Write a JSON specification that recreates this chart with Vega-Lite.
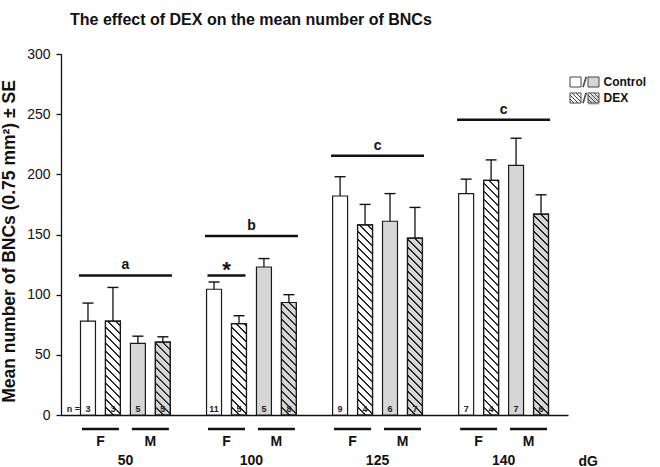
{
  "$schema": "https://vega.github.io/schema/vega-lite/v6.json",
  "width": 507,
  "height": 361,
  "autosize": {"type": "none"},
  "padding": {"left": 61, "top": 54, "right": 92, "bottom": 52},
  "background": "white",
  "title": {"text": "The effect of DEX on the mean number of BNCs", "anchor": "start", "frame": "group", "dx": 9, "offset": 6, "font": "Liberation Sans", "fontSize": 16, "fontWeight": "bold", "color": "#111", "baseline": "alphabetic"},
  "params": [
    {"name": "hatch", "value": [
      {"offset": 0, "color": "#222"}, {"offset": 0.002, "color": "#222"}, {"offset": 0.0045, "color": "rgba(0,0,0,0)"},
      {"offset": 0.02675, "color": "rgba(0,0,0,0)"}, {"offset": 0.02925, "color": "#222"}, {"offset": 0.03325, "color": "#222"}, {"offset": 0.03575, "color": "rgba(0,0,0,0)"},
      {"offset": 0.058, "color": "rgba(0,0,0,0)"}, {"offset": 0.0605, "color": "#222"}, {"offset": 0.0645, "color": "#222"}, {"offset": 0.067, "color": "rgba(0,0,0,0)"},
      {"offset": 0.08925, "color": "rgba(0,0,0,0)"}, {"offset": 0.09175, "color": "#222"}, {"offset": 0.09575, "color": "#222"}, {"offset": 0.09825, "color": "rgba(0,0,0,0)"},
      {"offset": 0.1205, "color": "rgba(0,0,0,0)"}, {"offset": 0.123, "color": "#222"}, {"offset": 0.127, "color": "#222"}, {"offset": 0.1295, "color": "rgba(0,0,0,0)"},
      {"offset": 0.15175, "color": "rgba(0,0,0,0)"}, {"offset": 0.15425, "color": "#222"}, {"offset": 0.15825, "color": "#222"}, {"offset": 0.16075, "color": "rgba(0,0,0,0)"},
      {"offset": 0.183, "color": "rgba(0,0,0,0)"}, {"offset": 0.1855, "color": "#222"}, {"offset": 0.1895, "color": "#222"}, {"offset": 0.192, "color": "rgba(0,0,0,0)"},
      {"offset": 0.21425, "color": "rgba(0,0,0,0)"}, {"offset": 0.21675, "color": "#222"}, {"offset": 0.22075, "color": "#222"}, {"offset": 0.22325, "color": "rgba(0,0,0,0)"},
      {"offset": 0.2455, "color": "rgba(0,0,0,0)"}, {"offset": 0.248, "color": "#222"}, {"offset": 0.252, "color": "#222"}, {"offset": 0.2545, "color": "rgba(0,0,0,0)"},
      {"offset": 0.27675, "color": "rgba(0,0,0,0)"}, {"offset": 0.27925, "color": "#222"}, {"offset": 0.28325, "color": "#222"}, {"offset": 0.28575, "color": "rgba(0,0,0,0)"},
      {"offset": 0.308, "color": "rgba(0,0,0,0)"}, {"offset": 0.3105, "color": "#222"}, {"offset": 0.3145, "color": "#222"}, {"offset": 0.317, "color": "rgba(0,0,0,0)"},
      {"offset": 0.33925, "color": "rgba(0,0,0,0)"}, {"offset": 0.34175, "color": "#222"}, {"offset": 0.34575, "color": "#222"}, {"offset": 0.34825, "color": "rgba(0,0,0,0)"},
      {"offset": 0.3705, "color": "rgba(0,0,0,0)"}, {"offset": 0.373, "color": "#222"}, {"offset": 0.377, "color": "#222"}, {"offset": 0.3795, "color": "rgba(0,0,0,0)"},
      {"offset": 0.40175, "color": "rgba(0,0,0,0)"}, {"offset": 0.40425, "color": "#222"}, {"offset": 0.40825, "color": "#222"}, {"offset": 0.41075, "color": "rgba(0,0,0,0)"},
      {"offset": 0.433, "color": "rgba(0,0,0,0)"}, {"offset": 0.4355, "color": "#222"}, {"offset": 0.4395, "color": "#222"}, {"offset": 0.442, "color": "rgba(0,0,0,0)"},
      {"offset": 0.46425, "color": "rgba(0,0,0,0)"}, {"offset": 0.46675, "color": "#222"}, {"offset": 0.47075, "color": "#222"}, {"offset": 0.47325, "color": "rgba(0,0,0,0)"},
      {"offset": 0.4955, "color": "rgba(0,0,0,0)"}, {"offset": 0.498, "color": "#222"}, {"offset": 0.502, "color": "#222"}, {"offset": 0.5045, "color": "rgba(0,0,0,0)"},
      {"offset": 0.52675, "color": "rgba(0,0,0,0)"}, {"offset": 0.52925, "color": "#222"}, {"offset": 0.53325, "color": "#222"}, {"offset": 0.53575, "color": "rgba(0,0,0,0)"},
      {"offset": 0.558, "color": "rgba(0,0,0,0)"}, {"offset": 0.5605, "color": "#222"}, {"offset": 0.5645, "color": "#222"}, {"offset": 0.567, "color": "rgba(0,0,0,0)"},
      {"offset": 0.58925, "color": "rgba(0,0,0,0)"}, {"offset": 0.59175, "color": "#222"}, {"offset": 0.59575, "color": "#222"}, {"offset": 0.59825, "color": "rgba(0,0,0,0)"},
      {"offset": 0.6205, "color": "rgba(0,0,0,0)"}, {"offset": 0.623, "color": "#222"}, {"offset": 0.627, "color": "#222"}, {"offset": 0.6295, "color": "rgba(0,0,0,0)"},
      {"offset": 0.65175, "color": "rgba(0,0,0,0)"}, {"offset": 0.65425, "color": "#222"}, {"offset": 0.65825, "color": "#222"}, {"offset": 0.66075, "color": "rgba(0,0,0,0)"},
      {"offset": 0.683, "color": "rgba(0,0,0,0)"}, {"offset": 0.6855, "color": "#222"}, {"offset": 0.6895, "color": "#222"}, {"offset": 0.692, "color": "rgba(0,0,0,0)"},
      {"offset": 0.71425, "color": "rgba(0,0,0,0)"}, {"offset": 0.71675, "color": "#222"}, {"offset": 0.72075, "color": "#222"}, {"offset": 0.72325, "color": "rgba(0,0,0,0)"},
      {"offset": 0.7455, "color": "rgba(0,0,0,0)"}, {"offset": 0.748, "color": "#222"}, {"offset": 0.752, "color": "#222"}, {"offset": 0.7545, "color": "rgba(0,0,0,0)"},
      {"offset": 0.77675, "color": "rgba(0,0,0,0)"}, {"offset": 0.77925, "color": "#222"}, {"offset": 0.78325, "color": "#222"}, {"offset": 0.78575, "color": "rgba(0,0,0,0)"},
      {"offset": 0.808, "color": "rgba(0,0,0,0)"}, {"offset": 0.8105, "color": "#222"}, {"offset": 0.8145, "color": "#222"}, {"offset": 0.817, "color": "rgba(0,0,0,0)"},
      {"offset": 0.83925, "color": "rgba(0,0,0,0)"}, {"offset": 0.84175, "color": "#222"}, {"offset": 0.84575, "color": "#222"}, {"offset": 0.84825, "color": "rgba(0,0,0,0)"},
      {"offset": 0.8705, "color": "rgba(0,0,0,0)"}, {"offset": 0.873, "color": "#222"}, {"offset": 0.877, "color": "#222"}, {"offset": 0.8795, "color": "rgba(0,0,0,0)"},
      {"offset": 0.90175, "color": "rgba(0,0,0,0)"}, {"offset": 0.90425, "color": "#222"}, {"offset": 0.90825, "color": "#222"}, {"offset": 0.91075, "color": "rgba(0,0,0,0)"},
      {"offset": 0.933, "color": "rgba(0,0,0,0)"}, {"offset": 0.9355, "color": "#222"}, {"offset": 0.9395, "color": "#222"}, {"offset": 0.942, "color": "rgba(0,0,0,0)"},
      {"offset": 0.96425, "color": "rgba(0,0,0,0)"}, {"offset": 0.96675, "color": "#222"}, {"offset": 0.97075, "color": "#222"}, {"offset": 0.97325, "color": "rgba(0,0,0,0)"},
      {"offset": 1, "color": "rgba(0,0,0,0)"}
    ]}
  ],
  "datasets": {
    "bars": [
      {"dG": "50", "sex": "F", "trt": "Control", "bar": "F Control", "mean": 78, "hi": 93, "n": 3},
      {"dG": "50", "sex": "F", "trt": "DEX", "bar": "F DEX", "mean": 78, "hi": 106, "n": 3},
      {"dG": "50", "sex": "M", "trt": "Control", "bar": "M Control", "mean": 59.5, "hi": 65.5, "n": 5},
      {"dG": "50", "sex": "M", "trt": "DEX", "bar": "M DEX", "mean": 60.5, "hi": 65, "n": 5},
      {"dG": "100", "sex": "F", "trt": "Control", "bar": "F Control", "mean": 104.5, "hi": 110.5, "n": 11},
      {"dG": "100", "sex": "F", "trt": "DEX", "bar": "F DEX", "mean": 76, "hi": 82.5, "n": 5},
      {"dG": "100", "sex": "M", "trt": "Control", "bar": "M Control", "mean": 123, "hi": 130, "n": 5},
      {"dG": "100", "sex": "M", "trt": "DEX", "bar": "M DEX", "mean": 93.5, "hi": 100, "n": 8},
      {"dG": "125", "sex": "F", "trt": "Control", "bar": "F Control", "mean": 182, "hi": 198, "n": 9},
      {"dG": "125", "sex": "F", "trt": "DEX", "bar": "F DEX", "mean": 158, "hi": 175, "n": 4},
      {"dG": "125", "sex": "M", "trt": "Control", "bar": "M Control", "mean": 161, "hi": 184, "n": 6},
      {"dG": "125", "sex": "M", "trt": "DEX", "bar": "M DEX", "mean": 147, "hi": 172.5, "n": 7},
      {"dG": "140", "sex": "F", "trt": "Control", "bar": "F Control", "mean": 184, "hi": 196, "n": 7},
      {"dG": "140", "sex": "F", "trt": "DEX", "bar": "F DEX", "mean": 195, "hi": 212, "n": 4},
      {"dG": "140", "sex": "M", "trt": "Control", "bar": "M Control", "mean": 207.5, "hi": 230, "n": 7},
      {"dG": "140", "sex": "M", "trt": "DEX", "bar": "M DEX", "mean": 167, "hi": 183, "n": 6}
    ],
    "sig": [
      {"dG": "50", "y": 116, "label": "a"},
      {"dG": "100", "y": 148.7, "label": "b"},
      {"dG": "125", "y": 215.4, "label": "c"},
      {"dG": "140", "y": 245.3, "label": "c"}
    ],
    "star": [
      {"dG": "100", "sex": "F", "y": 116, "label": "*"}
    ],
    "pairs": [
      {"dG": "50", "sex": "F"}, {"dG": "50", "sex": "M"},
      {"dG": "100", "sex": "F"}, {"dG": "100", "sex": "M"},
      {"dG": "125", "sex": "F"}, {"dG": "125", "sex": "M"},
      {"dG": "140", "sex": "F"}, {"dG": "140", "sex": "M"}
    ]
  },
  "config": {
    "view": {"stroke": null},
    "font": "Liberation Sans",
    "scale": {"offsetBandPaddingInner": 0.4, "offsetBandPaddingOuter": 0.2},
    "axis": {"labelFont": "Liberation Sans", "titleFont": "Liberation Sans", "domainColor": "#111", "tickColor": "#111", "labelColor": "#111", "titleColor": "#111", "grid": false},
    "axisY": {"labelFontSize": 14, "labelFontWeight": "normal", "tickSize": 5, "labelPadding": 6, "titleFontSize": 17.5, "titleFontWeight": "bold", "titlePadding": 8, "domainWidth": 1.3, "tickWidth": 1.3},
    "axisX": {"labelFontSize": 14, "labelFontWeight": "bold", "ticks": false, "labelPadding": 38, "labelAngle": 0, "domainWidth": 1.5, "titleFontSize": 14, "titleFontWeight": "bold"}
  },
  "resolve": {"scale": {"xOffset": "independent", "shape": "independent"}},
  "encoding": {
    "x": {"field": "dG", "type": "nominal", "sort": ["50", "100", "125", "140"], "scale": {"paddingInner": 0.208, "paddingOuter": 0.115},
      "axis": {"title": "dG", "titleX": 517, "titleY": 50, "titleAlign": "left", "titleBaseline": "alphabetic", "titleAnchor": "start"}}
  },
  "layer": [
    {
      "data": {"name": "bars"},
      "mark": {"type": "bar", "stroke": "#1a1a1a", "strokeWidth": 1.2},
      "encoding": {
        "xOffset": {"field": "bar", "type": "nominal", "scale": {"domain": ["F Control", "F DEX", "M Control", "M DEX"]}},
        "y": {"field": "mean", "type": "quantitative", "scale": {"domain": [0, 300], "nice": false}, "axis": {"title": "Mean number of BNCs (0.75 mm²) ± SE", "values": [0, 50, 100, 150, 200, 250, 300], "titleY": 187, "titleAlign": "center"}},
        "fill": {"field": "sex", "type": "nominal", "scale": {"domain": ["F", "M"], "range": ["white", "#d6d6d6"]}, "legend": null}
      }
    },
    {
      "data": {"name": "bars"},
      "transform": [{"filter": "datum.trt == 'DEX'"}],
      "mark": {"type": "bar", "stroke": "#1a1a1a", "strokeWidth": 1.2,
        "fill": {"expr": "{gradient: 'linear', x1: 0, y1: 1, x2: 3840 / (225 + pow(datum.mean * 1.20333, 2)), y2: 1 - 256 * datum.mean * 1.20333 / (225 + pow(datum.mean * 1.20333, 2)), stops: hatch}"}},
      "encoding": {
        "xOffset": {"field": "bar", "type": "nominal", "scale": {"domain": ["F Control", "F DEX", "M Control", "M DEX"]}},
        "y": {"field": "mean", "type": "quantitative"}
      }
    },
    {
      "data": {"name": "bars"},
      "mark": {"type": "rule", "color": "#111", "strokeWidth": 1.3},
      "encoding": {
        "xOffset": {"field": "bar", "type": "nominal", "scale": {"domain": ["F Control", "F DEX", "M Control", "M DEX"]}},
        "y": {"field": "mean", "type": "quantitative"},
        "y2": {"field": "hi"}
      }
    },
    {
      "data": {"name": "bars"},
      "mark": {"type": "tick", "color": "#111", "opacity": 1, "size": 11, "thickness": 1.4},
      "encoding": {
        "xOffset": {"field": "bar", "type": "nominal", "scale": {"domain": ["F Control", "F DEX", "M Control", "M DEX"]}},
        "y": {"field": "hi", "type": "quantitative"}
      }
    },
    {
      "data": {"name": "bars"},
      "mark": {"type": "text", "fontSize": 9, "fontWeight": "bold", "color": "#222", "baseline": "alphabetic", "dy": -3},
      "encoding": {
        "xOffset": {"field": "bar", "type": "nominal", "scale": {"domain": ["F Control", "F DEX", "M Control", "M DEX"]}},
        "y": {"datum": 0},
        "text": {"field": "n", "type": "quantitative"}
      }
    },
    {
      "data": {"name": "bars"},
      "transform": [{"filter": "datum.dG == '50' && datum.bar == 'F Control'"}],
      "mark": {"type": "text", "text": "n =", "fontSize": 9, "fontWeight": "bold", "color": "#222", "baseline": "alphabetic", "align": "right", "dy": -3, "dx": -8},
      "encoding": {
        "xOffset": {"field": "bar", "type": "nominal", "scale": {"domain": ["F Control", "F DEX", "M Control", "M DEX"]}},
        "y": {"datum": 0}
      }
    },
    {
      "data": {"name": "sig"},
      "mark": {"type": "tick", "color": "#111", "opacity": 1, "size": 93, "thickness": 2.5},
      "encoding": {"y": {"field": "y", "type": "quantitative"}}
    },
    {
      "data": {"name": "sig"},
      "mark": {"type": "text", "fontSize": 14, "fontWeight": "bold", "color": "#111", "baseline": "alphabetic", "dy": -6},
      "encoding": {"y": {"field": "y", "type": "quantitative"}, "text": {"field": "label"}}
    },
    {
      "data": {"name": "star"},
      "mark": {"type": "tick", "color": "#111", "opacity": 1, "size": 38, "thickness": 2.5},
      "encoding": {
        "xOffset": {"field": "sex", "type": "nominal", "scale": {"domain": ["F", "M"]}},
        "y": {"field": "y", "type": "quantitative"}
      }
    },
    {
      "data": {"name": "star"},
      "mark": {"type": "text", "fontSize": 22, "fontWeight": "bold", "color": "#111", "baseline": "alphabetic", "dy": 2},
      "encoding": {
        "xOffset": {"field": "sex", "type": "nominal", "scale": {"domain": ["F", "M"]}},
        "y": {"field": "y", "type": "quantitative"},
        "text": {"field": "label"}
      }
    },
    {
      "data": {"name": "pairs"},
      "mark": {"type": "tick", "color": "#111", "opacity": 1, "size": 37, "thickness": 2.5, "yOffset": 14},
      "encoding": {
        "xOffset": {"field": "sex", "type": "nominal", "scale": {"domain": ["F", "M"]}},
        "y": {"datum": 0}
      }
    },
    {
      "data": {"name": "pairs"},
      "mark": {"type": "text", "fontSize": 14, "fontWeight": "bold", "color": "#111", "baseline": "middle", "dy": 27},
      "encoding": {
        "xOffset": {"field": "sex", "type": "nominal", "scale": {"domain": ["F", "M"]}},
        "y": {"datum": 0},
        "text": {"field": "sex"}
      }
    },
    {
      "data": {"name": "bars"},
      "mark": {"type": "point", "opacity": 0, "filled": true, "fill": "#d6d6d6"},
      "encoding": {
        "xOffset": {"field": "bar", "type": "nominal", "scale": {"domain": ["F Control", "F DEX", "M Control", "M DEX"]}},
        "y": {"field": "mean", "type": "quantitative"},
        "shape": {"field": "trt", "type": "nominal",
          "scale": {"domain": ["Control", "DEX"], "range": ["M0.7,-1H2.9V1H0.7Z", "M0.7,-1H2.9V1H0.7Z"]},
          "legend": {"orient": "none", "legendX": 517.5, "legendY": 22, "padding": 0, "title": null, "symbolSize": 100, "labelOffset": 13, "labelFont": "Liberation Sans", "labelFontSize": 12, "labelFontWeight": "bold", "labelOpacity": 0, "labelExpr": "' '", "rowPadding": 2, "symbolOpacity": 1, "symbolFillColor": "#d6d6d6"}
        }
      }
    },
    {
      "data": {"name": "bars"},
      "mark": {"type": "point", "opacity": 0, "filled": false, "color": "#444"},
      "encoding": {
        "xOffset": {"field": "bar", "type": "nominal", "scale": {"domain": ["F Control", "F DEX", "M Control", "M DEX"]}},
        "y": {"field": "mean", "type": "quantitative"},
        "shape": {"field": "trt", "type": "nominal",
          "scale": {"domain": ["Control", "DEX"], "range": [
            "M-2.9,-1H-0.7V1H-2.9Z M0.7,-1H2.9V1H0.7Z M-0.35,1L0.25,-1L0.4,-1L-0.2,1Z",
            "M-2.9,-1H-0.7V1H-2.9Z M0.7,-1H2.9V1H0.7Z M-0.35,1L0.25,-1L0.4,-1L-0.2,1Z M-2.9,0.2L-2.1,1 M-2.9,-0.6L-1.3,1 M-2.5,-1L-0.7,0.8 M-1.7,-1L-0.7,0 M0.7,0.2L1.5,1 M0.7,-0.6L2.3,1 M1.1,-1L2.9,0.8 M1.9,-1L2.9,0"
          ]},
          "legend": {"orient": "none", "legendX": 517.5, "legendY": 22, "padding": 0, "title": null, "symbolSize": 100, "labelOffset": 13, "labelFont": "Liberation Sans", "labelFontSize": 12, "labelFontWeight": "bold", "labelColor": "#111", "rowPadding": 2, "symbolOpacity": 1, "symbolStrokeWidth": 1, "symbolStrokeColor": "#444"}
        }
      }
    }
  ]
}
